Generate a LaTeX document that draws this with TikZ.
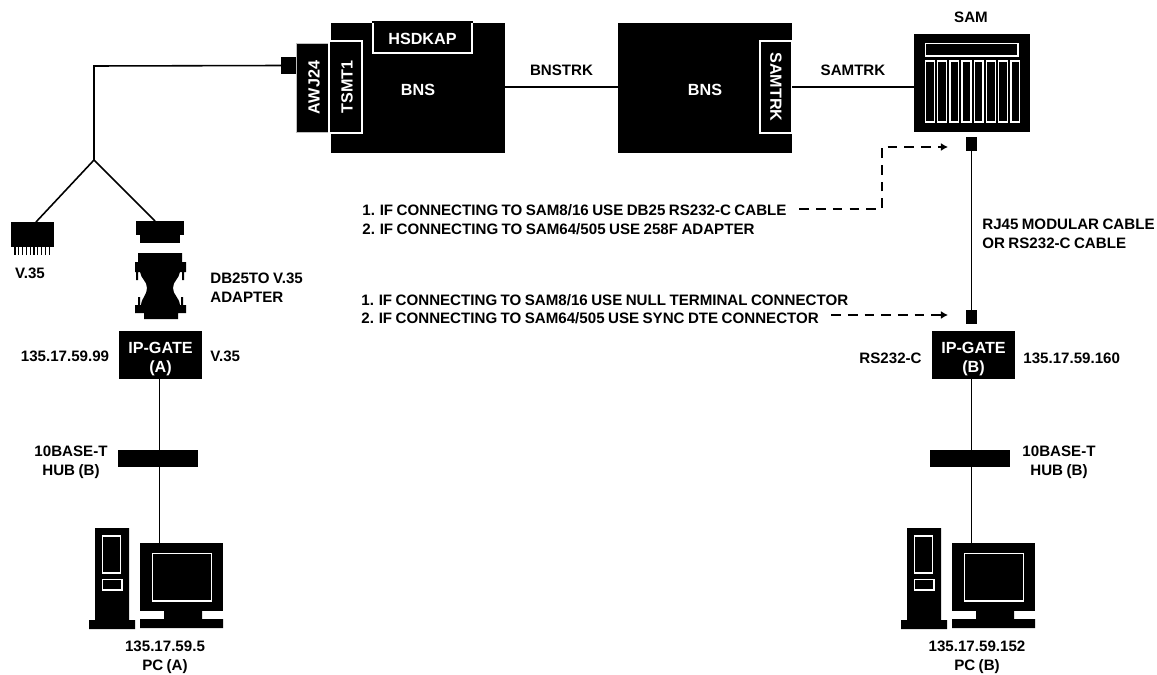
\documentclass[tikz,border=0pt]{standalone}
\usepackage{fontspec}
\setmainfont{Liberation Sans}[WordSpace=0.82]
\usetikzlibrary{arrows.meta}
\tikzset{
  size/.style 2 args={minimum width=#1*0.2mm,minimum height=#2*0.2mm,inner sep=0pt,outer sep=0pt},
  solid box/.style={fill=black,text=white,font=\bfseries\fontsize{9.2}{10.8}\selectfont,align=center},
  inset box/.style={solid box,draw=white,line width=0.7pt},
  lbl/.style={inner sep=0pt,align=center,font=\bfseries\fontsize{8.6}{10.6}\selectfont},
  note/.style={lbl,anchor=west,align=left},
  cable/.style={line width=0.9pt},
  slot/.style={white,line width=0.8pt},
  dashline/.style={line width=0.8pt,dash pattern=on 5.5pt off 4pt,-{Latex[length=4pt,width=4.5pt]}}
}
\begin{document}
\begin{tikzpicture}[x=0.2mm,y=-0.2mm]
  \useasboundingbox (0,0) rectangle (1157,675);
  % BNS left
  \node[solid box,size={174}{130}] (bnsa) at (418,88) {\rule{0pt}{8.9pt}BNS};
  \node[inset box,size={99}{32}] (hsdkap) at (422.5,37) {\rule{0pt}{8.2pt}HSDKAP};
  \fill[black] (372,21) rectangle (473,22.9);
  \node[solid box,size={89}{33},rotate=90,draw=gray!50,line width=0.3pt] (awj) at (312.5,87.5) {\rule{0pt}{8.2pt}AWJ24};
  \node[inset box,size={92}{33},rotate=90] (tsmt) at (345.5,87) {\rule{0pt}{8.2pt}TSMT1};
  \node[fill=black,size={15}{17}] (plug) at (288.5,65.5) {};
  % BNS right
  \node[solid box,size={174}{130}] (bnsb) at (705,88) {\rule{0pt}{8.9pt}BNS};
  \node[inset box,size={92}{32},rotate=-90] (samtrk) at (776,87) {SAMTRK};
  % SAM
  \node[fill=black,size={116}{98}] (sam) at (972,83) {};
  \node[lbl] (samlbl) at (971,17) {SAM};
  \draw[slot] (925.5,43.5) rectangle (1018,56);
  \foreach \i in {0,...,7}
    \draw[slot] (925.5+12.2*\i,61) rectangle +(8.7,61);
  \node[fill=black,size={11}{14}] (samplug) at (971.5,144) {};
  \node[fill=black,size={11}{14}] (gateplug) at (971.5,316.5) {};
  % trunk lines
  \draw[cable] (bnsa.east |- 0,87) -- node[above=6pt,lbl] (bnstrk) {BNSTRK} (bnsb.west |- 0,87);
  \draw[cable] (samtrk.north |- 0,87) -- node[above=6pt,lbl] (samtrklbl) {SAMTRK} (sam.west |- 0,87);
  \draw[cable] (samplug) -- (gateplug);
  \node[lbl,anchor=west,align=left] (rjlbl) at (982,233.5) {RJ45 MODULAR CABLE\\OR RS232-C CABLE};
  % notes
  \node[note] (notea) at (362,210) {1. IF CONNECTING TO SAM8/16 USE DB25 RS232-C CABLE};
  \node[note] (noteb) at (362,229.5) {2. IF CONNECTING TO SAM64/505 USE 258F ADAPTER};
  \node[note] (notec) at (361,300.5) {1. IF CONNECTING TO SAM8/16 USE NULL TERMINAL CONNECTOR};
  \node[note] (noted) at (361,318) {2. IF CONNECTING TO SAM64/505 USE SYNC DTE CONNECTOR};
  \coordinate (bendtip) at (882,147);
  \coordinate (samtip) at (948,147);
  \coordinate (gatetip) at (948,315);
  \draw[dashline,shorten <=2.5mm] (notea.east |- 0,209) -| (bendtip) -- (samtip);
  \draw[dashline,shorten <=2.4mm] (noted.east |- gatetip) -- (gatetip);
  % cable to V.35
  \coordinate (turn) at (94,66);
  \coordinate (split) at (94,160);
  \node[fill=black,size={43}{25}] (vconn) at (32.5,234.5) {};
  \foreach \i in {0,...,9}
    \draw[line width=0.6pt] (15+3.8*\i,247) -- +(0,8);
  \node[lbl] (vlbl) at (30,273) {V.35};
  \node[fill=black,size={48}{14}] (dbconn) at (160,228) {};
  \fill[black] (140,235) rectangle (180,243);
  \draw[cable] (plug.west) -- (turn) -- (split);
  \draw[cable] (split) -- (vconn.north -| 36,0);
  \draw[cable] (split) -- (dbconn.north -| 155,0);
  % adapter
  \fill[black] (138,253) -- (182,253) -- (182,262) -- (186,262) -- (186,272) -- (184,272) -- (184,280) -- (182,280) -- (182,272) -- (180,272)
    .. controls (179,279) and (173,281) .. (173,288) .. controls (173,295) and (179,297) .. (180,305)
    -- (181,305) -- (181,297) -- (183,297) -- (183,305) -- (186,305) -- (186,313) -- (178,313) -- (178,319) -- (144,319) -- (144,313) -- (135,313) -- (135,305)
    -- (138,305) -- (138,297) -- (140,297) -- (140,305) -- (141,305)
    .. controls (142,297) and (147,295) .. (147,288) .. controls (147,281) and (141,279) .. (140,272)
    -- (138,272) -- (138,280) -- (136,280) -- (136,272) -- (135,272) -- (135,262) -- (138,262) -- cycle;
  \node[lbl,anchor=west,align=left] (adlbl) at (210,288) {DB25TO V.35\\ADAPTER};
  % left column
  \node[solid box,size={83}{48}] (gatea) at (160.5,355) {\rule{0pt}{10.5pt}IP-GATE\\(A)};
  \node[lbl] (ipgatea) at (65,356) {135.17.59.99};
  \node[lbl,anchor=west] (v35a) at (210,356) {V.35};
  \node[fill=black,size={80}{17}] (huba) at (158,458.5) {};
  \node[lbl] (hubalbl) at (71,462.5) {10BASE-T\\HUB (B)};
  % pc left
  \node[fill=black,size={83}{68}] (mona) at (181.5,577) {};
  \draw[slot] (152.5,553.5) rectangle (211.5,601);
  \fill[black] (164,611) rectangle (202,620) (140,619) rectangle (223,628);
  \fill[black] (95,528) rectangle (129,621) (89,620) rectangle (135,629);
  \draw[slot] (102.5,536) rectangle (120.5,573) (102.5,579.5) rectangle (122,590);
  \draw[cable] (gatea.south -| 159.5,0) -- (mona.north -| 159.5,0);
  \node[lbl] (pcalbl) at (165,657) {135.17.59.5\\PC (A)};
  % right column
  \node[solid box,size={83}{48}] (gateb) at (973.5,355) {\rule{0pt}{10.5pt}IP-GATE\\(B)};
  \node[lbl,anchor=east] (rslbl) at (922,358) {RS232-C};
  \node[lbl,anchor=west] (ipgateb) at (1023,358) {135.17.59.160};
  \node[fill=black,size={80}{17}] (hubb) at (970,458.5) {};
  \node[lbl] (hubblbl) at (1059,462.5) {10BASE-T\\HUB (B)};
  % pc right
  \node[fill=black,size={83}{68}] (monb) at (993.5,577) {};
  \draw[slot] (964.5,553.5) rectangle (1023.5,601);
  \fill[black] (976,611) rectangle (1014,620) (952,619) rectangle (1035,628);
  \fill[black] (907,528) rectangle (941,621) (901,620) rectangle (947,629);
  \draw[slot] (914.5,536) rectangle (932.5,573) (914.5,579.5) rectangle (934,590);
  \draw[cable] (gateb.south -| 971.5,0) -- (monb.north -| 971.5,0);
  \node[lbl] (pcblbl) at (977,657) {135.17.59.152\\PC (B)};
\end{tikzpicture}
\end{document}
